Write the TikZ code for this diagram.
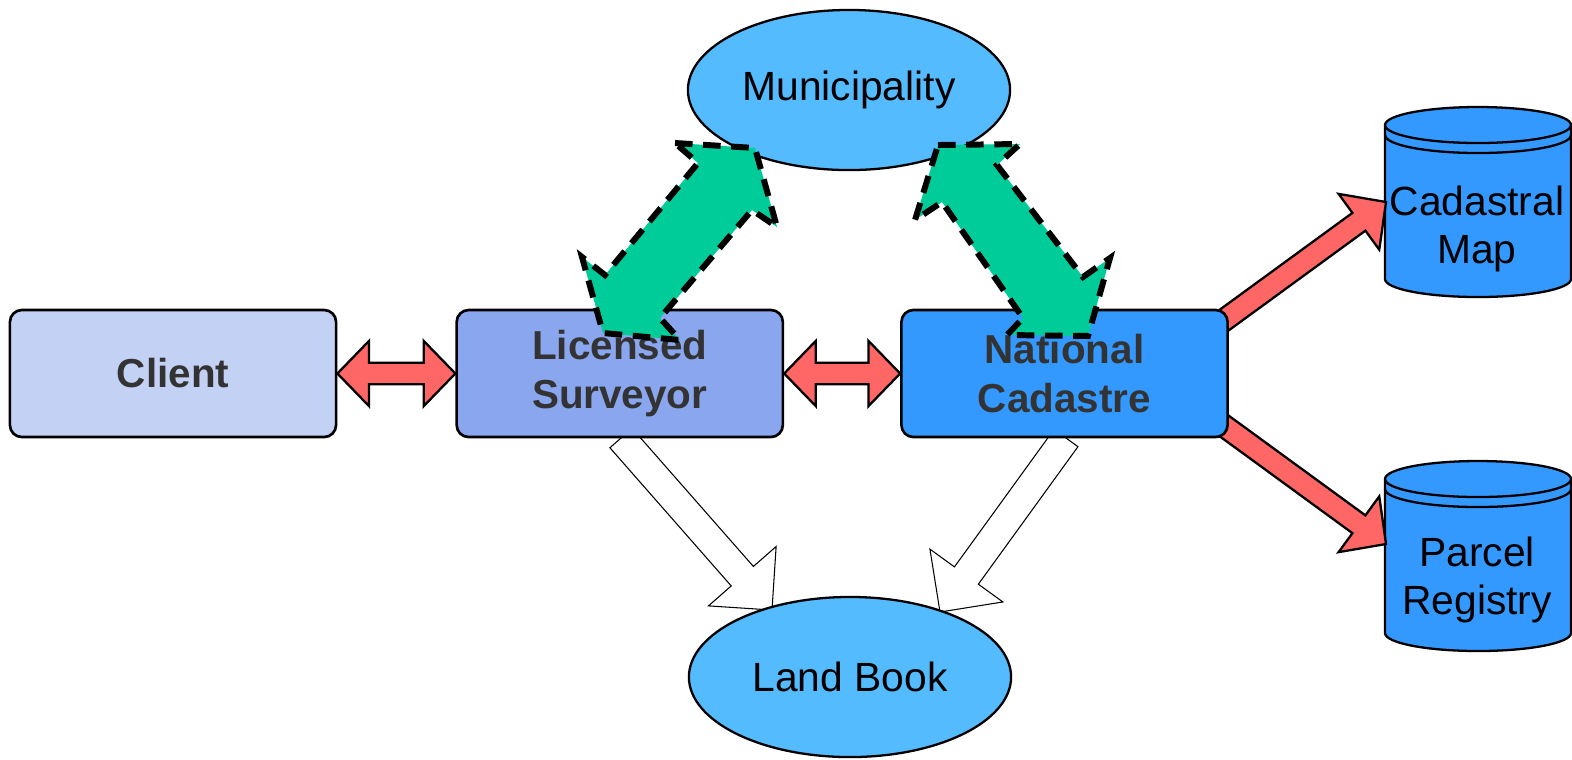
\documentclass[tikz,border=0pt]{standalone}
\usepackage{fontspec}
\setmainfont{Liberation Sans}
\usetikzlibrary{positioning,calc,shapes.geometric}

\definecolor{clientblue}{HTML}{C3D1F5}
\definecolor{surveyblue}{HTML}{89A6EE}
\definecolor{cadastreblue}{HTML}{3399FF}
\definecolor{skyblue}{HTML}{55BBFF}
\definecolor{arrowred}{HTML}{FF6666}
\definecolor{mintgreen}{HTML}{00CC99}
\definecolor{labelgray}{HTML}{333333}

% block arrow: style, from, to, shaft half width, head half width, head length
\newcommand{\blockarrow}[6]{%
  \coordinate (hb) at ($(#3)!#6!(#2)$);
  \draw[#1] ($(#2)!#4!90:(#3)$) -- ($(hb)!#4!90:(#3)$) -- ($(hb)!#5!90:(#3)$) -- (#3)
     -- ($(hb)!#5!-90:(#3)$) -- ($(hb)!#4!-90:(#3)$) -- ($(#2)!#4!-90:(#3)$) -- cycle;
}
% same with a head at both ends
\newcommand{\twoheadblock}[6]{%
  \coordinate (ha) at ($(#2)!#6!(#3)$);
  \coordinate (hb) at ($(#3)!#6!(#2)$);
  \draw[#1] (#2) -- ($(ha)!#5!90:(#3)$) -- ($(ha)!#4!90:(#3)$) -- ($(hb)!#4!90:(#3)$)
     -- ($(hb)!#5!90:(#3)$) -- (#3) -- ($(hb)!#5!-90:(#3)$) -- ($(hb)!#4!-90:(#3)$)
     -- ($(ha)!#4!-90:(#3)$) -- ($(ha)!#5!-90:(#3)$) -- cycle;
}

\begin{document}
\begin{tikzpicture}[x=0.01cm,y=-0.01cm,
    box/.style={draw,line width=.75pt,rounded corners=.12cm,minimum width=3.26cm,
      minimum height=1.27cm,align=center,text=labelgray,
      font=\fontsize{11.5}{13.7}\selectfont\bfseries},
    oval/.style={ellipse,draw,line width=.65pt,fill=skyblue,inner sep=0pt,
      minimum width=3.22cm,minimum height=1.6cm,font=\fontsize{11.6}{13.7}\selectfont},
    dbtext/.style={align=center,font=\fontsize{11.6}{13.7}\selectfont},
    cyl/.style={fill=cadastreblue,draw=black,line width=.65pt},
    redarrow/.style={fill=arrowred,draw=black,line width=.65pt},
    hollowarrow/.style={fill=white,draw=black,line width=.3pt},
    greenarrow/.style={fill=mintgreen,draw=black,line width=1.7pt,dash pattern=on 5pt off 3pt}]

  \useasboundingbox (0,0) rectangle (1572,759);

  % hollow arrows down to the land book
  \coordinate (svout) at (621,438);
  \coordinate (lbin1) at (772,610);
  \coordinate (ncout) at (1066,438);
  \coordinate (lbin2) at (940,612);
  \blockarrow{hollowarrow}{svout}{lbin1}{.1475cm}{.45cm}{.45cm}
  \blockarrow{hollowarrow}{ncout}{lbin2}{.1475cm}{.45cm}{.45cm}

  % the two databases
  \foreach \cy in {125,479}{
    \filldraw[cyl] (1385,\cy) -- ++(0,154)
      arc[start angle=180,end angle=0,x radius=93,y radius=18] -- ++(0,-154)
      arc[start angle=0,end angle=-180,x radius=93,y radius=18] -- cycle;
    \draw[line width=.65pt] (1385,\cy) arc[start angle=180,end angle=0,x radius=93,y radius=18];
    \draw[line width=.65pt] (1385,\cy+10) arc[start angle=180,end angle=0,x radius=93,y radius=18];
  }
  \node[dbtext] (maptext) at (1477,229) {Cadastral\\Map};
  \node[dbtext] (regtext) at (1477,580) {Parcel\\Registry};

  % red arrows into the databases
  \coordinate (ncmap) at (1190,345);
  \coordinate (mapin) at (1386,202);
  \coordinate (ncreg) at (1190,401);
  \coordinate (regin) at (1386,544);
  \blockarrow{redarrow}{ncmap}{mapin}{.11cm}{.345cm}{.335cm}
  \blockarrow{redarrow}{ncreg}{regin}{.11cm}{.345cm}{.335cm}

  % offices
  \begin{scope}[on grid]
    \node[box,fill=clientblue] (client) at (173,373.5) {Client};
    \node[box,fill=surveyblue,right=4.465cm of client] (surveyor) {Licensed\\Surveyor};
    \node[box,fill=cadastreblue,right=4.445cm of surveyor] (cadastre) {National\\Cadastre};
  \end{scope}

  \node[oval] (muni) at (849,90) {Municipality};
  \node[oval] (landbook) at (850,677) {Land Book};

  % exchanges between the offices
  \twoheadblock{redarrow}{client.east}{surveyor.west}{.108cm}{.325cm}{.315cm}
  \twoheadblock{redarrow}{surveyor.east}{cadastre.west}{.108cm}{.325cm}{.315cm}

  % municipality links (dashed)
  \draw[greenarrow] (675,143) -- (755,148) -- (777,227) -- (752,210) -- (660,318)
    -- (680,340) -- (603,333) -- (582,257) -- (605,275) -- (698,163) -- cycle;
  \draw[greenarrow] (938,145) -- (1020,144) -- (997,165) -- (1083,277) -- (1110,258)
    -- (1088,336) -- (1007,335) -- (1023,318) -- (942,202) -- (915,220) -- cycle;

\end{tikzpicture}
\end{document}
